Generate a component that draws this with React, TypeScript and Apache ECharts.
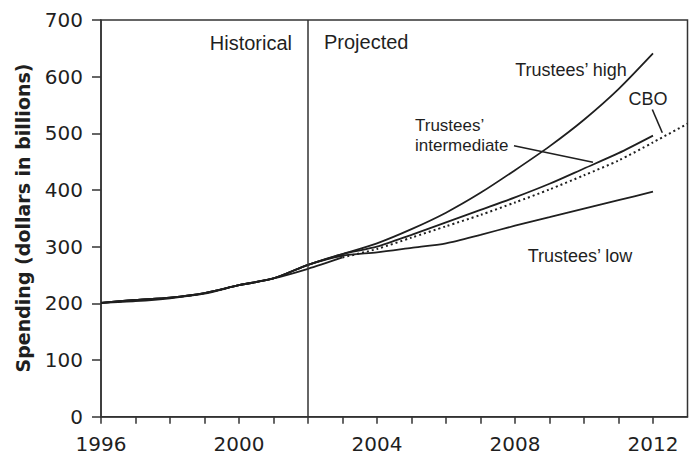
import React, { useEffect, useRef } from "react";
import * as echarts from "echarts";

// Years on the x axis
const years = [1996, 1997, 1998, 1999, 2000, 2001, 2002, 2003, 2004, 2005, 2006, 2007, 2008, 2009, 2010, 2011, 2012, 2013];
const xTickLabels = [1996, 2000, 2004, 2008, 2012];
const yTicks = [0, 100, 200, 300, 400, 500, 600, 700];

// Historical spending (1996–2002), Trustees' baseline
const historical = [201, 206, 210, 218, 232, 244, 268];
// CBO historical path (1996–2003)
const cboHistorical = [201, 204, 209, 217, 232, 244, 261, 281];
// Projections 2003–2012
const highProj = [287, 306, 331, 360, 395, 435, 477, 524, 578, 641];
const intermediateProj = [287, 300, 321, 343, 365, 387, 411, 438, 465, 496];
const lowProj = [284, 290, 298, 306, 321, 337, 352, 367, 382, 397];
// CBO projection 2003–2013
const cboProj = [281, 296, 316, 336, 356, 378, 401, 426, 452, 484, 517];

const splitYear = 2002;

// Leader lines for labels (data coordinates)
const intermediateLeader = [[2007.97, 478], [2010.26, 449]];
const cboLeader = [[2011.98, 542], [2012.27, 501]];

const INK = "#1f1f1f";
const LABEL_FONT = "'Liberation Sans', Arial, sans-serif";
const TICK_FONT = "'DejaVu Sans', sans-serif";

function trustees(proj: number[]) {
  const vals = historical.concat(proj);
  return years.slice(0, vals.length).map((y, i) => [y, vals[i]]);
}

export default function App() {
  const ref = useRef<HTMLDivElement>(null);
  useEffect(() => {
    if (!ref.current) return;
    const chart = echarts.init(ref.current, undefined, { renderer: "svg" });
    const solid = { color: INK, width: 1.8 };
    const lineBase = {
      type: "line" as const,
      showSymbol: false,
      symbol: "none",
      silent: true,
      smooth: 0.25,
    };
    const cboStart = years.indexOf(2003);
    chart.setOption({
      animation: false,
      backgroundColor: "#ffffff",
      grid: {
        left: 101,
        right: 8.5,
        top: 20,
        bottom: 41.3,
        show: true,
        borderColor: "#333",
        borderWidth: 1.5,
        backgroundColor: "transparent",
      },
      xAxis: {
        type: "value",
        min: years[0],
        max: years[years.length - 1],
        interval: 1,
        axisLine: { show: true, lineStyle: { color: "#333", width: 1.5 } },
        axisTick: { show: true, length: 7, lineStyle: { color: "#333", width: 1.5 } },
        splitLine: { show: false },
        axisLabel: {
          margin: 17,
          fontSize: 20,
          fontFamily: TICK_FONT,
          color: INK,
          showMaxLabel: false,
          formatter: (v: number) => (xTickLabels.includes(v) ? String(v) : ""),
        },
      },
      yAxis: {
        type: "value",
        min: yTicks[0],
        max: yTicks[yTicks.length - 1],
        interval: 100,
        axisLine: { show: true, lineStyle: { color: "#333", width: 1.5 } },
        axisTick: { show: true, length: 9, lineStyle: { color: "#333", width: 1.5 } },
        splitLine: { show: false },
        axisLabel: {
          margin: 18,
          fontSize: 20,
          fontFamily: TICK_FONT,
          color: INK,
        },
      },
      series: [
        {
          ...lineBase,
          name: "CBO historical",
          data: years.slice(0, cboHistorical.length).map((y, i) => [y, cboHistorical[i]]),
          lineStyle: solid,
          markLine: {
            silent: true,
            symbol: "none",
            label: { show: false },
            lineStyle: { color: "#333", width: 1.5, type: "solid" },
            data: [{ xAxis: splitYear }],
          },
        },
        {
          ...lineBase,
          name: "CBO",
          data: years.slice(cboStart, cboStart + cboProj.length).map((y, i) => [y, cboProj[i]]),
          lineStyle: { color: INK, width: 2, type: [2, 3] },
        },
        { ...lineBase, name: "Trustees' low", data: trustees(lowProj), lineStyle: solid },
        { ...lineBase, name: "Trustees' intermediate", data: trustees(intermediateProj), lineStyle: solid },
        { ...lineBase, name: "Trustees' high", data: trustees(highProj), lineStyle: solid },
        {
          type: "line",
          name: "leaders",
          data: [],
          silent: true,
          markLine: {
            silent: true,
            symbol: "none",
            label: { show: false },
            lineStyle: { color: INK, width: 1.6, type: "solid" },
            data: [
              [{ coord: intermediateLeader[0] }, { coord: intermediateLeader[1] }],
              [{ coord: cboLeader[0] }, { coord: cboLeader[1] }],
            ],
          },
        },
      ],
      graphic: [
        {
          type: "text",
          x: 23,
          y: 218,
          rotation: Math.PI / 2,
          style: {
            text: "Spending (dollars in billions)",
            font: "bold 19px 'DejaVu Sans', sans-serif",
            fill: INK,
            textAlign: "center",
            textVerticalAlign: "middle",
          },
        },
        {
          type: "text",
          x: 292,
          y: 43,
          style: { text: "Historical", font: `20px ${LABEL_FONT}`, fill: INK, textAlign: "right", textVerticalAlign: "middle" },
        },
        {
          type: "text",
          x: 324,
          y: 42,
          style: { text: "Projected", font: `20px ${LABEL_FONT}`, fill: INK, textAlign: "left", textVerticalAlign: "middle" },
        },
        {
          type: "text",
          x: 571,
          y: 70,
          style: { text: "Trustees’ high", font: `18px ${LABEL_FONT}`, fill: INK, textAlign: "center", textVerticalAlign: "middle" },
        },
        {
          type: "text",
          x: 648,
          y: 99,
          style: { text: "CBO", font: `18px ${LABEL_FONT}`, fill: INK, textAlign: "center", textVerticalAlign: "middle" },
        },
        {
          type: "text",
          x: 415,
          y: 135,
          style: {
            text: "Trustees’\nintermediate",
            font: `17px ${LABEL_FONT}`,
            lineHeight: 20,
            fill: INK,
            textAlign: "left",
            textVerticalAlign: "middle",
          },
        },
        {
          type: "text",
          x: 580,
          y: 256,
          style: { text: "Trustees’ low", font: `18px ${LABEL_FONT}`, fill: INK, textAlign: "center", textVerticalAlign: "middle" },
        },
      ],
    });
    return () => chart.dispose();
  }, []);
  return (
    <div
      ref={ref}
      style={{ position: "fixed", left: 0, top: 0, width: 696, height: 458, background: "#fff" }}
    />
  );
}
